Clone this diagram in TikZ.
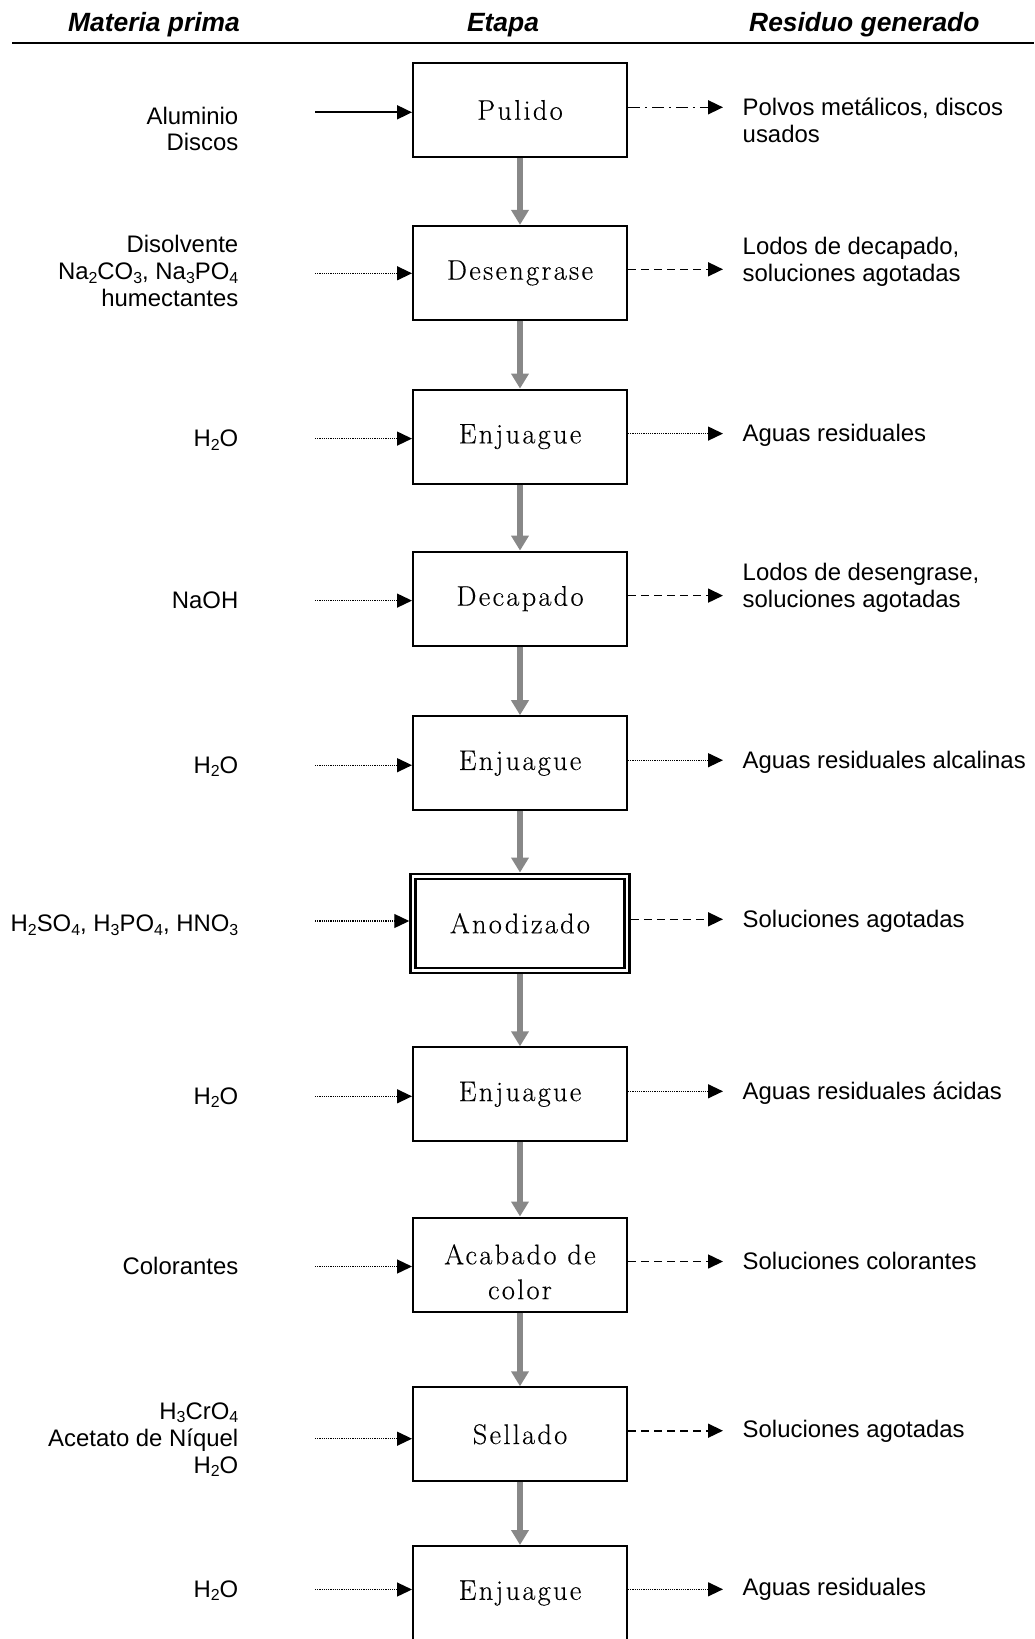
\documentclass[tikz,border=0pt]{standalone}
\usepackage{fontspec}
\usetikzlibrary{arrows.meta}
\newfontfamily\labfont{Liberation Sans}
\newfontfamily\boxfont{Latin Modern Roman}[LetterSpace=8,FakeBold=0.3]
\newcommand\sbs[1]{\raisebox{-3.5bp}{\fontsize{16}{16}\selectfont #1}}
\definecolor{flowgray}{RGB}{136,136,136}
\begin{document}
\begin{tikzpicture}[x=1bp,y=-1bp,
  stepbox/.style={draw, line width=2bp, minimum width=214bp, minimum height=94bp,
    inner sep=0pt, outer sep=1bp, align=center, font=\boxfont\fontsize{28.5}{35}\selectfont},
  anodbox/.style={double, double distance=2.5bp, line width=2.5bp, outer sep=3.75bp},
  flow/.style={draw=flowgray, fill=flowgray, line width=6.5bp, -{Triangle[length=15bp,width=17bp]}},
  tipb/.style={-{Triangle[length=15bp,width=14bp]}},
  solidin/.style={tipb, line width=1.8bp},
  dotted line/.style={tipb, line width=1.3bp, dash pattern=on 1.1bp off 1.1bp},
  dashed line/.style={tipb, line width=1.6bp, dash pattern=on 8bp off 5bp},
  dashdot line/.style={tipb, line width=1.6bp, dash pattern=on 12bp off 5bp on 2bp off 5bp},
  lab/.style={inner sep=0pt, font=\labfont\fontsize{24}{27}\selectfont},
  leftlab/.style={lab, anchor=base east, align=right},
  rightlab/.style={lab, anchor=base west, align=left},
  hdr/.style={inner sep=0pt, font=\labfont\bfseries\itshape\fontsize{26.5}{30}\selectfont}]
\useasboundingbox (0,0) rectangle (1034,1639);

% header
\node[hdr, anchor=base east] (h1) at (240,32) {Materia prima};
\node[hdr, anchor=base] (h2) at (503,32) {Etapa};
\node[hdr, anchor=base west] (h3) at (749,32) {Residuo generado};
\coordinate (hl) at (12,43.3);
\coordinate (hr) at (1034,43.3);
\draw[line width=2bp] (hl) -- (hr);

% steps
\node[stepbox] (s1) at (520,110) {Pulido};
\node[stepbox] (s2) at (520,272.9) {Desengrase};
\node[stepbox] (s3) at (520,436.6) {Enjuague};
\node[stepbox] (s4) at (520,598.6) {Decapado};
\node[stepbox] (s5) at (520,763.2) {Enjuague};
\node[stepbox, anodbox] (s6) at (520,923.3) {Anodizado};
\node[stepbox] (s7) at (520,1094.3) {Enjuague};
\node[stepbox] (s8) at (520,1264.5) {\rule{0pt}{34.6bp}Acabado de\\color};
\node[stepbox] (s9) at (520,1434.3) {Sellado};
\node[stepbox] (s10) at (520,1593) {Enjuague};

% main flow
\foreach \a/\b in {s1/s2,s2/s3,s3/s4,s4/s5,s5/s6,s6/s7,s7/s8,s8/s9,s9/s10}
  \draw[flow] (\a.south) -- (\b.north);

% inputs
\coordinate (i1) at (315,112.3);
\coordinate (i2) at (315,273.3);
\coordinate (i3) at (315,438.6);
\coordinate (i4) at (315,600.6);
\coordinate (i5) at (315,765.2);
\coordinate (i6) at (315,921);
\coordinate (i7) at (315,1096.3);
\coordinate (i8) at (315,1266.5);
\coordinate (i9) at (315,1438.7);
\coordinate (i10) at (315,1589.5);
\draw[solidin] (i1) -- (i1 -| s1.west);
\foreach \n in {2,...,10}
  \draw[dotted line] (i\n) -- (i\n -| s\n.west);

% outputs
\coordinate (o1) at (723,107.3);
\coordinate (o2) at (723,269.3);
\coordinate (o3) at (723,433.6);
\coordinate (o4) at (723,595.6);
\coordinate (o5) at (723,760.2);
\coordinate (o6) at (723,919.3);
\coordinate (o7) at (723,1091.3);
\coordinate (o8) at (723,1261.5);
\coordinate (o9) at (723,1430.7);
\coordinate (o10) at (723,1589.3);
\draw[dashdot line] (o1 -| s1.east) -- (o1);
\foreach \n in {2,4,6,8,9}
  \draw[dashed line] (o\n -| s\n.east) -- (o\n);
\foreach \n in {3,5,7,10}
  \draw[dotted line] (o\n -| s\n.east) -- (o\n);

% left labels (materia prima); base anchor = baseline of last line
\node[leftlab] (l1) at (238.5,150) {Aluminio\\[-1.3bp]Discos};
\node[leftlab] (l2) at (238.5,306.7) {Disolvente\\Na\sbs{2}CO\sbs{3}, Na\sbs{3}PO\sbs{4}\\humectantes};
\node[leftlab] (l3) at (238.5,446.6) {H\sbs{2}O};
\node[leftlab] (l4) at (238.5,608.6) {NaOH};
\node[leftlab] (l5) at (238.5,773.2) {H\sbs{2}O};
\node[leftlab] (l6) at (238.5,931.7) {H\sbs{2}SO\sbs{4}, H\sbs{3}PO\sbs{4}, HNO\sbs{3}};
\node[leftlab] (l7) at (238.5,1104.3) {H\sbs{2}O};
\node[leftlab] (l8) at (238.5,1274.5) {Colorantes};
\node[leftlab] (l9) at (238.5,1473) {H\sbs{3}CrO\sbs{4}\\Acetato de Níquel\\H\sbs{2}O};
\node[leftlab] (l10) at (238.5,1597) {H\sbs{2}O};

% right labels (residuo generado)
\node[rightlab] (r1) at (742.5,142) {Polvos metálicos, discos\\usados};
\node[rightlab] (r2) at (742.5,281) {Lodos de decapado,\\soluciones agotadas};
\node[rightlab] (r3) at (742.5,441.6) {Aguas residuales};
\node[rightlab] (r4) at (742.5,607) {Lodos de desengrase,\\soluciones agotadas};
\node[rightlab] (r5) at (742.5,768.2) {Aguas residuales alcalinas};
\node[rightlab] (r6) at (742.5,927.3) {Soluciones agotadas};
\node[rightlab] (r7) at (742.5,1099.3) {Aguas residuales ácidas};
\node[rightlab] (r8) at (742.5,1269.5) {Soluciones colorantes};
\node[rightlab] (r9) at (742.5,1437.3) {Soluciones agotadas};
\node[rightlab] (r10) at (742.5,1595) {Aguas residuales};
\end{tikzpicture}
\end{document}
